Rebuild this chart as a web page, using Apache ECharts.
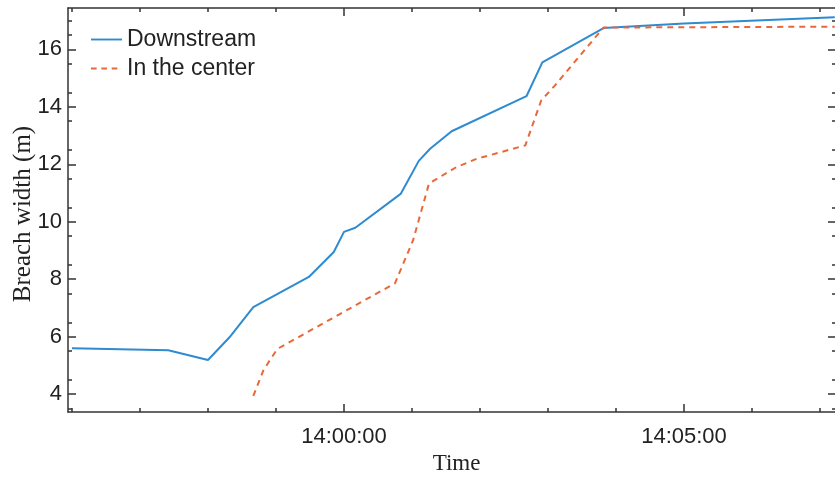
<!DOCTYPE html>
<html>
<head>
<meta charset="utf-8">
<script src="https://cdn.jsdelivr.net/npm/echarts@6/dist/echarts.min.js"></script>
<style>
  html, body { margin: 0; padding: 0; background: #fff; }
  #chart { width: 835px; height: 477px; }
</style>
</head>
<body>
<div id="chart"></div>
<script>
// Breach width measured downstream and in the centre of the breach
const downstreamTime = ['13:56:00', '13:57:25', '13:58:00', '13:58:19', '13:58:40', '13:59:29', '13:59:51',
  '14:00:00', '14:00:10', '14:00:50', '14:01:06', '14:01:16', '14:01:35', '14:02:41', '14:02:55',
  '14:03:49', '14:05:00', '14:07:13'];
const downstreamWidth = [5.60, 5.53, 5.19, 5.98, 7.03, 8.08, 8.95,
  9.65, 9.79, 10.97, 12.12, 12.54, 13.15, 14.37, 15.55,
  16.74, 16.90, 17.12];

const centerTime = ['13:58:40', '13:58:49', '13:59:01', '14:00:45', '14:01:01', '14:01:15', '14:01:39',
  '14:01:57', '14:02:40', '14:02:54', '14:03:06', '14:03:49', '14:07:13'];
const centerWidth = [3.94, 4.84, 5.57, 7.86, 9.36, 11.33, 11.90,
  12.19, 12.66, 14.22, 14.74, 16.76, 16.79];

// Axis ticks
const timeMajorTicks = ['14:00:00', '14:05:00'];
const timeMinorTicks = ['13:56:00', '13:57:00', '13:58:00', '13:59:00', '14:01:00', '14:02:00',
  '14:03:00', '14:04:00', '14:06:00', '14:07:00'];
const widthMajorTicks = [4, 6, 8, 10, 12, 14, 16];
const widthMinorTicks = [3.5, 4.5, 5.5, 6.5, 7.5, 8.5, 9.5, 10.5, 11.5, 12.5, 13.5, 14.5, 15.5, 16.5, 17];

const timeRange = ['13:55:56.5', '14:07:14.1'];
const widthRange = [3.38, 17.44];

function toSec(t) {
  const p = t.split(':').map(Number);
  return p[0] * 3600 + p[1] * 60 + p[2];
}
function fmtSec(s) {
  s = Math.round(s);
  const h = Math.floor(s / 3600), m = Math.floor((s % 3600) / 60), sec = s % 60;
  const pad = n => String(n).padStart(2, '0');
  return h + ':' + pad(m) + ':' + pad(sec);
}

const sansFont = 'Arial, "Liberation Sans", sans-serif';
const serifFont = '"Times New Roman", "Liberation Serif", serif';
const ink = '#333';
const blue = '#2e8bd1';
const orange = '#e8683a';

const xMin = toSec(timeRange[0]), xMax = toSec(timeRange[1]);
const xMajor = timeMajorTicks.map(toSec);
const xMinor = timeMinorTicks.map(toSec);

function xAxisDef(position, ticks, len, opts) {
  return Object.assign({
    type: 'value', position: position, min: xMin, max: xMax,
    axisLine: { show: true, onZero: false, lineStyle: { color: ink, width: 1.5 } },
    axisTick: { show: true, inside: true, length: len, customValues: ticks, lineStyle: { color: ink, width: 1.5 } },
    axisLabel: { show: false },
    splitLine: { show: false }
  }, opts || {});
}
function yAxisDef(position, ticks, len, opts) {
  return Object.assign({
    type: 'value', position: position, min: widthRange[0], max: widthRange[1],
    axisLine: { show: true, onZero: false, lineStyle: { color: ink, width: 1.5 } },
    axisTick: { show: true, inside: true, length: len, customValues: ticks, lineStyle: { color: ink, width: 1.5 } },
    axisLabel: { show: false },
    splitLine: { show: false }
  }, opts || {});
}

// Legend keys: a solid stroke and a dashed stroke
const solidKey = 'path://M0,0h33v2h-33z';
const dashedKey = 'path://M0,0h6v2h-6z M11,0h6v2h-6z M22,0h6v2h-6z M33,0h0v2h0z';

const chart = echarts.init(document.getElementById('chart'), null, { renderer: 'canvas' });

chart.setOption({
  animation: false,
  backgroundColor: '#fff',
  grid: { left: 68, right: -1, top: 8, bottom: 65, containLabel: false, outerBoundsMode: 'none' },
  legend: {
    orient: 'vertical', left: 91, top: 28, padding: 0,
    itemWidth: 31, itemHeight: 2, itemGap: 6,
    textStyle: { fontFamily: sansFont, fontSize: 23, color: '#222', lineHeight: 22 },
    data: [
      { name: 'Downstream', icon: solidKey, itemStyle: { color: blue } },
      { name: 'In the center', icon: dashedKey, itemStyle: { color: orange } }
    ]
  },
  xAxis: [
    xAxisDef('bottom', xMajor, 8, {
      name: 'Time', nameLocation: 'middle', nameGap: 40, nameMoveOverlap: false,
      nameTextStyle: { fontFamily: serifFont, fontSize: 23, color: '#222', padding: [0, 0, 0, 9] },
      axisLabel: {
        show: true, customValues: xMajor, margin: 14,
        fontFamily: sansFont, fontSize: 22, color: '#222',
        formatter: v => fmtSec(v)
      }
    }),
    xAxisDef('bottom', xMinor, 4, { axisLine: { show: false } }),
    xAxisDef('top', xMajor, 8),
    xAxisDef('top', xMinor, 4, { axisLine: { show: false } })
  ],
  yAxis: [
    yAxisDef('left', widthMajorTicks, 8, {
      name: 'Breach width (m)', nameLocation: 'middle', nameGap: 32, nameRotate: 90, nameMoveOverlap: false,
      nameTextStyle: { fontFamily: serifFont, fontSize: 25, color: '#222', padding: [0, 8, 0, 0] },
      axisLabel: {
        show: true, customValues: widthMajorTicks, margin: 6,
        fontFamily: sansFont, fontSize: 22, color: '#222'
      }
    }),
    yAxisDef('left', widthMinorTicks, 4, { axisLine: { show: false } }),
    yAxisDef('right', widthMajorTicks, 8),
    yAxisDef('right', widthMinorTicks, 4, { axisLine: { show: false } })
  ],
  series: [
    {
      name: 'Downstream', type: 'line', symbol: 'none',
      xAxisIndex: 0, yAxisIndex: 0,
      data: downstreamTime.map((t, i) => [toSec(t), downstreamWidth[i]]),
      lineStyle: { color: blue, width: 2 },
      itemStyle: { color: blue }
    },
    {
      name: 'In the center', type: 'line', symbol: 'none',
      xAxisIndex: 0, yAxisIndex: 0,
      data: centerTime.map((t, i) => [toSec(t), centerWidth[i]]),
      lineStyle: { color: orange, width: 2, type: [6, 5] },
      itemStyle: { color: orange }
    }
  ]
});
</script>
</body>
</html>
